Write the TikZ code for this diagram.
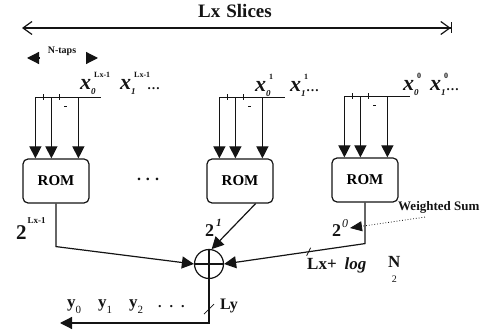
\documentclass[tikz,border=0pt]{standalone}
\usepackage{fontspec}
\setmainfont{Liberation Serif}
\usepackage{tikz}
\usetikzlibrary{positioning,arrows.meta,calc}
\definecolor{ink}{HTML}{141414}

\newcommand{\fsz}[1]{\fontsize{#1}{#1}\selectfont}
% bit label x_sub^sup
\newcommand{\xv}[2]{{\fsz{22}\bfseries\itshape x}\rlap{\hspace{0pt}\raisebox{-4.5pt}{\fsz{9}\bfseries\itshape #1}}\rlap{\hspace{3pt}\raisebox{12pt}{\fsz{8}\bfseries #2}}}
\newcommand{\yv}[1]{{\fsz{17}\bfseries y}\raisebox{-6pt}{\fsz{11}#1}}

\tikzset{
  rom/.style={draw=ink, line width=1.2pt, rounded corners=5pt, minimum width=66pt,
    minimum height=44pt, inner sep=0pt, font=\fsz{15}\bfseries},
  wire/.style={ink, line width=1.2pt},
  tap/.style={wire, -{Triangle[length=12pt,width=12pt]}},
  lbl/.style={inner sep=0pt, text=ink},
}

\begin{document}
\begin{tikzpicture}[x=1pt,y=-1pt]
  \useasboundingbox (0,0) rectangle (487,336);
  % span of the slices
  \node[lbl, font=\fsz{19}\bfseries, anchor=base] (slices) at (235,18) {Lx\hspace{6pt}Slices};
  \coordinate (lxL) at (22,28);
  \coordinate (lxR) at (452,28);
  \draw[wire, {Straight Barb[length=9pt,width=13pt]}-{Straight Barb[length=9pt,width=13pt,sep=0pt]Bar[width=11pt]}] (lxL) -- (lxR);
  \node[lbl, font=\fsz{10}\bfseries] (ntaps) at (62,51) {N-taps};
  \coordinate (ntL) at (27,58);
  \coordinate (ntR) at (98,58);
  \draw[tap] ($(ntL)+(12,0)$) -- (ntL);
  \draw[tap] ($(ntR)+(-12,0)$) -- (ntR);

  % ROM slices
  \node[rom] (romA) at (56,181) {ROM\hspace{9pt}};
  \node[rom] (romB) at (240,181) {ROM\hspace{9pt}};
  \node[rom] (romC) at (365,180) {ROM\hspace{9pt}};
  \node[lbl, font=\fsz{16}\bfseries] (rdots) at (148,179) {.\hspace{5pt}.\hspace{5pt}.};
  \foreach \s in {A,B,C}{
    \coordinate (bus\s) at ($(rom\s.north west)+(13,-61)$);
    \draw[wire] (bus\s) -- ++(66,0);
    \foreach \dx in {0,16,43}
      \draw[tap] ($(bus\s)+(\dx,0)$) -- ($(rom\s.north west)+(\dx+13,0)$);
    \foreach \dx in {8,24}
      \draw[wire, line width=0.8pt] ($(bus\s)+(\dx,-3)$) -- ++(0,6);
    \draw[ink, line width=1.6pt] ($(bus\s)+(29,9)$) -- ++(3,0);
  }
  \node[lbl, anchor=base west] (xA) at (80,90) {\xv{0}{Lx-1}\hspace{29pt}\xv{1}{Lx-1}\hspace{16pt}{\fsz{13}\bfseries\ldots}};
  \node[lbl, anchor=base west] (xB) at (255,92) {\xv{0}{1}\hspace{24pt}\xv{1}{1}\hspace{5pt}{\fsz{13}\bfseries\ldots}};
  \node[lbl, anchor=base west] (xC) at (403,91) {\xv{0}{0}\hspace{16pt}\xv{1}{0}\hspace{5pt}{\fsz{13}\bfseries\ldots}};

  % weighted sum
  \node[draw=ink, circle, line width=1.2pt, minimum size=29pt, inner sep=0pt] (add) at (209,264) {};
  \draw[wire] (add.north) -- (add.south) (add.west) -- (add.east);
  \draw[tap] (romA.south) -- ++(0,43) coordinate (kA) -- (add.west);
  \draw[tap] ($(romB.south east)+(-18,0)$) -- (add.80);
  \draw[tap] (romC.south) -- ++(0,41) coordinate (kC) -- (add.east);
  \path (kC) -- (add.east) coordinate[pos=0.4] (sC);
  \draw[wire, line width=0.8pt] ($(sC)+(-2,4)$) -- ($(sC)+(2,-4)$);
  \node[lbl, anchor=base west] (wA) at (16,240) {{\fsz{21}\bfseries 2}\hspace{1pt}\raisebox{16pt}{\fsz{9}\bfseries Lx-1}};
  \node[lbl, anchor=base west] (wB) at (205,237) {{\fsz{18}\bfseries 2}\hspace{2pt}\raisebox{10pt}{\fsz{11}\bfseries\itshape 1}};
  \node[lbl, anchor=base west] (wC) at (332,237) {{\fsz{18}\bfseries 2}\hspace{1pt}\raisebox{9pt}{\fsz{12}\itshape 0}};
  \node[lbl, anchor=base west, font=\fsz{13}\bfseries] (wsum) at (398,211) {Weighted Sum};
  \coordinate (wtip) at (350,228);
  \draw[ink, dotted, line width=0.8pt, -{Triangle[length=12pt,width=10pt]}] ($(wsum.south west)+(27,3)$) -- (wtip);
  \node[lbl, anchor=base west, font=\fsz{17}\bfseries] (bits) at (307,270) {Lx+\hspace{8pt}\textit{log}};
  \node[lbl, anchor=base west, font=\fsz{17}\bfseries] (bitsN) at (388,268) {N};
  \node[lbl, anchor=base, font=\fsz{10}] (bitsB) at (bitsN.south |- 0,283) {2};

  % output word
  \coordinate (yend) at (60,323);
  \draw[tap] (add.south) |- (yend);
  \draw[wire, line width=0.8pt] ($(add.south)+(-5,35)$) -- ++(10,-10);
  \node[lbl, anchor=base west, font=\fsz{16}\bfseries] (ly) at (220,310) {Ly};
  \node[lbl, anchor=base west] (yout) at (67,308) {\yv{0}\hspace{17pt}\yv{1}\hspace{17pt}\yv{2}\hspace{15pt}{\fsz{14}\bfseries .\hspace{8pt}.\hspace{8pt}.}};
\end{tikzpicture}
\end{document}
